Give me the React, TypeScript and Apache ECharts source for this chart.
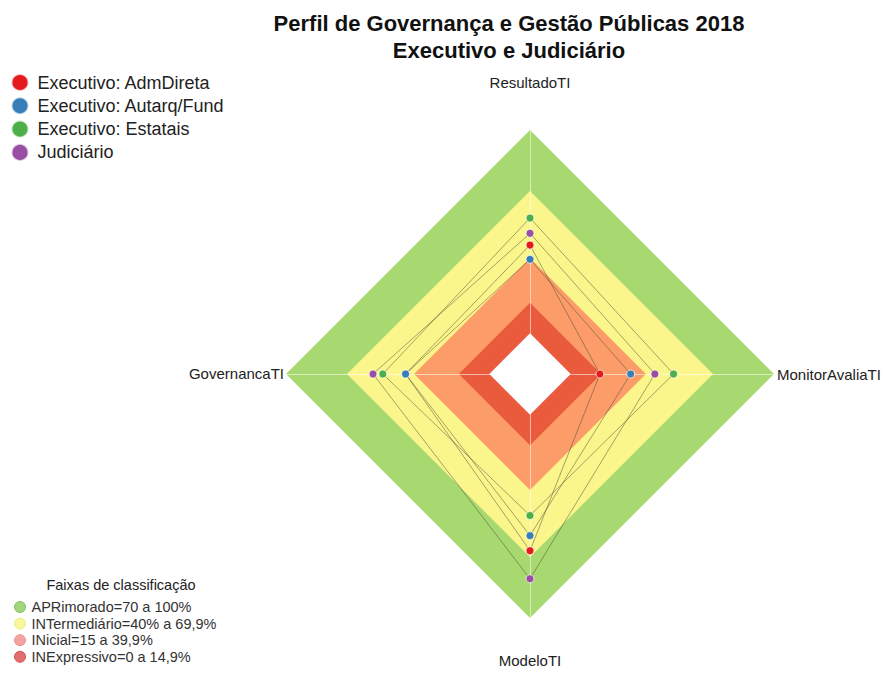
import React, { useEffect, useRef } from 'react';
import * as echarts from 'echarts';

// Radar axes (ECharts places them counter-clockwise from the top)
const indicators = ['ResultadoTI', 'GovernancaTI', 'ModeloTI', 'MonitorAvaliaTI'];
const axisMin = -20;
const axisMax = 100;

const seriesNames = ['Executivo: AdmDireta', 'Executivo: Autarq/Fund', 'Executivo: Estatais', 'Judiciário'];
const admDireta = [43.4, 41.2, 66.9, 14.4];
const autarqFund = [36.4, 41.2, 59.5, 29.5];
const estatais = [56.7, 52.4, 49.6, 50.6];
const judiciario = [49.2, 57.2, 80.7, 41.4];
const seriesValues = [admDireta, autarqFund, estatais, judiciario];
const seriesColors = ['#e41a1c', '#377eb8', '#4daf4a', '#984ea3'];

const bandNames = ['APRimorado=70 a 100%', 'INTermediário=40% a 69,9%', 'INicial=15 a 39,9%', 'INExpressivo=0 a 14,9%', 'centro'];
const bandLimits = [100, 70, 37, 15, 0];
const bandColors = ['#a8d870', '#fbf68c', '#fc9d69', '#ea5a3c', '#ffffff'];
const bandLegendColors = ['#a3d47e', '#f8f79c', '#f4a3a3', '#e26d6d'];
const bandLegendBorders = ['#86c25e', '#efed85', '#ec8f8f', '#d24f4f'];

const titleLines = ['Perfil de Governança e Gestão Públicas 2018', 'Executivo e Judiciário'];
const bandLegendTitle = 'Faixas de classificação';

const FONT = "'Liberation Sans', Arial, sans-serif";

export default function App() {
  const ref = useRef<HTMLDivElement>(null);

  useEffect(() => {
    if (!ref.current) return;
    const chart = echarts.init(ref.current, undefined, { renderer: 'svg' });

    const cx = 530;
    const cy = 374;
    const radius = 244;

    const option: any = {
      animation: false,
      backgroundColor: '#ffffff',
      radar: {
        center: [cx, cy],
        radius,
        startAngle: 90,
        shape: 'polygon',
        z: 2,
        indicator: indicators.map((name) => ({ name, min: axisMin, max: axisMax })),
        axisName: { show: false },
        axisLine: { show: true, lineStyle: { color: 'rgba(255,255,255,0.55)', width: 1 } },
        splitLine: { show: false },
        splitArea: { show: false },
        axisTick: { show: false },
        axisLabel: { show: false },
      },
      legend: [
        {
          data: seriesNames,
          orient: 'vertical',
          left: 10.5,
          top: 73,
          height: 120,
          padding: 0,
          icon: 'circle',
          symbolKeepAspect: true,
          itemWidth: 25,
          itemHeight: 17,
          itemGap: 4.3,
          selectedMode: false,
          textStyle: { fontSize: 18, color: '#222', fontFamily: FONT },
        },
        {
          data: bandNames.slice(0, 4).map((name, i) => ({
            name,
            itemStyle: { color: bandLegendColors[i], borderColor: bandLegendBorders[i], borderWidth: 1 },
          })),
          orient: 'vertical',
          left: 14,
          top: 599.5,
          height: 100,
          padding: 0,
          icon: 'circle',
          symbolKeepAspect: true,
          itemWidth: 13,
          itemHeight: 11,
          itemGap: 1.6,
          selectedMode: false,
          textStyle: { fontSize: 14.5, color: '#333', fontFamily: FONT },
        },
      ],
      graphic: [
        {
          type: 'text',
          x: 509,
          y: 23.1,
          style: { text: titleLines[0], font: `bold 22px ${FONT}`, fill: '#111', textAlign: 'center', textVerticalAlign: 'middle' },
        },
        {
          type: 'text',
          x: 509,
          y: 50.7,
          style: { text: titleLines[1], font: `bold 22px ${FONT}`, fill: '#111', textAlign: 'center', textVerticalAlign: 'middle' },
        },
        {
          type: 'text',
          x: 121,
          y: 585,
          style: { text: bandLegendTitle, font: `14.5px ${FONT}`, fill: '#222', textAlign: 'center', textVerticalAlign: 'middle' },
        },
        {
          type: 'text',
          x: 530,
          y: 82,
          style: { text: indicators[0], font: `15px ${FONT}`, fill: '#222', textAlign: 'center', textVerticalAlign: 'middle' },
        },
        {
          type: 'text',
          x: 284,
          y: 373,
          style: { text: indicators[1], font: `15px ${FONT}`, fill: '#222', textAlign: 'right', textVerticalAlign: 'middle' },
        },
        {
          type: 'text',
          x: 530,
          y: 660,
          style: { text: indicators[2], font: `15px ${FONT}`, fill: '#222', textAlign: 'center', textVerticalAlign: 'middle' },
        },
        {
          type: 'text',
          x: 777,
          y: 374,
          style: { text: indicators[3], font: `15px ${FONT}`, fill: '#222', textAlign: 'left', textVerticalAlign: 'middle' },
        },
      ],
      series: [
        {
          name: 'Faixas',
          type: 'radar',
          z: 1,
          silent: true,
          symbol: 'none',
          emphasis: { disabled: true },
          data: bandLimits.map((v, i) => ({
            name: bandNames[i],
            value: indicators.map(() => v),
            symbol: 'none',
            itemStyle: { color: bandColors[i] },
            lineStyle: { width: 0, color: bandColors[i] },
            areaStyle: { color: bandColors[i], opacity: 1 },
          })),
        },
        {
          name: 'Perfil',
          type: 'radar',
          z: 3,
          silent: true,
          symbol: 'circle',
          symbolSize: 8,
          emphasis: { disabled: true },
          data: seriesValues.map((vals, i) => ({
            name: seriesNames[i],
            value: vals,
            itemStyle: { color: seriesColors[i], borderColor: 'rgba(255,255,255,0.7)', borderWidth: 1 },
            lineStyle: { color: '#4a4a32', width: 0.7, opacity: 0.7 },
          })),
        },
      ],
    };

    chart.setOption(option);
    return () => chart.dispose();
  }, []);

  return (
    <div
      ref={ref}
      style={{ position: 'absolute', left: 0, top: 0, width: 884, height: 675, background: '#fff' }}
    />
  );
}
